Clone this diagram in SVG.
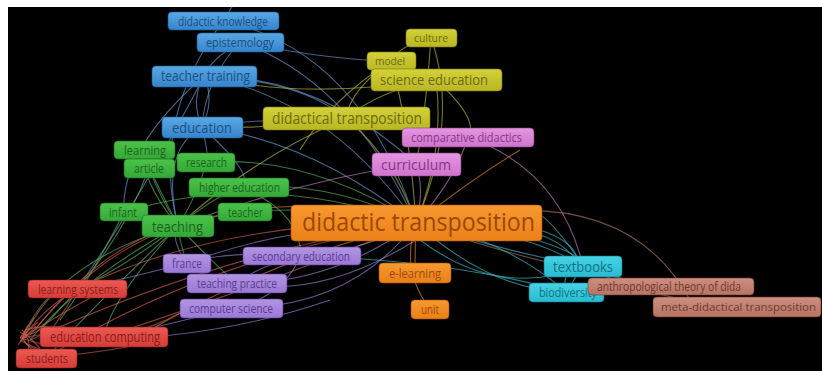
<svg xmlns="http://www.w3.org/2000/svg" width="822" height="374" viewBox="0 0 822 374">
<style>
.n rect{rx:4;ry:4;stroke-width:1;stroke-opacity:0.6}
.n text{font-family:"Open Sans","Noto Sans","Liberation Sans",sans-serif;text-anchor:start}
#links path{fill:none;stroke-width:1.1;stroke-opacity:0.65}
.lo{stroke:#e08a30}.lb{stroke:#6a9ad0}.ly{stroke:#b8b840}.lp{stroke:#c080c0}.lg{stroke:#60b060}.lv{stroke:#9a80d0}.lr{stroke:#d06050}.lc{stroke:#40b8c8}.ln{stroke:#b07860}
.blue rect{fill:url(#gBlue);stroke:#1f5d94}.blue text{fill:#1b4f80}
.yel rect{fill:url(#gYel);stroke:#7a7a10}.yel text{fill:#6b6a0d}
.pink rect{fill:url(#gPink);stroke:#8a3c8a}.pink text{fill:#84378a}
.ora rect{fill:url(#gOra);stroke:#a05010}.ora text{fill:#9c4808}
.grn rect{fill:url(#gGrn);stroke:#1b6a1f}.grn text{fill:#17661c}
.pur rect{fill:url(#gPur);stroke:#5b3b94}.pur text{fill:#5b3b94}
.red rect{fill:url(#gRed);stroke:#8c1c1a}.red text{fill:#8c1c1a}
.cyn rect{fill:url(#gCyn);stroke:#12717f}.cyn text{fill:#12717f}
.brn rect{fill:url(#gBrn);stroke:#6e3a30}.brn text{fill:#6e3a30}
</style>
<defs>
<linearGradient id="gBlue" x1="0" y1="0" x2="0" y2="1"><stop offset="0" stop-color="#5aa8e4"/><stop offset="1" stop-color="#3584cc"/></linearGradient>
<linearGradient id="gYel" x1="0" y1="0" x2="0" y2="1"><stop offset="0" stop-color="#d4d23a"/><stop offset="1" stop-color="#b8b622"/></linearGradient>
<linearGradient id="gPink" x1="0" y1="0" x2="0" y2="1"><stop offset="0" stop-color="#e496e0"/><stop offset="1" stop-color="#cf74cc"/></linearGradient>
<linearGradient id="gOra" x1="0" y1="0" x2="0" y2="1"><stop offset="0" stop-color="#f7992e"/><stop offset="1" stop-color="#ea7f18"/></linearGradient>
<linearGradient id="gGrn" x1="0" y1="0" x2="0" y2="1"><stop offset="0" stop-color="#4cc24a"/><stop offset="1" stop-color="#35a837"/></linearGradient>
<linearGradient id="gPur" x1="0" y1="0" x2="0" y2="1"><stop offset="0" stop-color="#b295e2"/><stop offset="1" stop-color="#9a78d4"/></linearGradient>
<linearGradient id="gRed" x1="0" y1="0" x2="0" y2="1"><stop offset="0" stop-color="#ea5a52"/><stop offset="1" stop-color="#d63c38"/></linearGradient>
<linearGradient id="gCyn" x1="0" y1="0" x2="0" y2="1"><stop offset="0" stop-color="#48d2e4"/><stop offset="1" stop-color="#26bcd2"/></linearGradient>
<linearGradient id="gBrn" x1="0" y1="0" x2="0" y2="1"><stop offset="0" stop-color="#cc8e80"/><stop offset="1" stop-color="#b87464"/></linearGradient>
</defs>
<rect x="0" y="0" width="822" height="374" fill="#ffffff"/>
<rect x="8" y="7" width="814" height="364" fill="#000000"/>
<g id="links">
<path class="lo" d="M416,223 Q297,188 178,226"/>
<path class="lb" d="M416,223 Q310,140 202,127"/>
<path class="lr" d="M416,223 Q220,220 77,289"/>
<path class="lr" d="M416,223 Q250,290 104,337"/>
<path class="lr" d="M416,223 Q200,260 46,358"/>
<path class="lr" d="M416,223 Q230,250 30,340"/>
<path class="lv" d="M416,223 Q350,255 301,256"/>
<path class="lv" d="M416,223 Q330,285 237,283"/>
<path class="lv" d="M416,223 Q350,310 231,308"/>
<path class="lo" d="M416,223 Q415,250 415,273"/>
<path class="lo" d="M416,223 Q400,270 430,309"/>
<path class="lc" d="M416,223 Q500,250 583,266"/>
<path class="lc" d="M416,223 Q490,290 566,292"/>
<path class="ln" d="M470,215 Q630,190 690,300"/>
<path class="ln" d="M416,223 Q550,270 671,286"/>
<path class="lp" d="M416,223 Q425,190 416,164"/>
<path class="lp" d="M416,223 Q455,180 468,137"/>
<path class="ly" d="M416,223 Q395,160 346,118"/>
<path class="ly" d="M416,223 Q445,150 436,80"/>
<path class="ly" d="M416,223 Q460,120 431,38"/>
<path class="ly" d="M416,223 Q410,130 391,61"/>
<path class="lb" d="M416,223 Q350,80 240,42"/>
<path class="lb" d="M416,223 Q330,100 204,76"/>
<path class="lb" d="M416,223 Q360,50 223,21"/>
<path class="lg" d="M416,223 Q330,180 239,187"/>
<path class="lg" d="M416,223 Q330,205 245,212"/>
<path class="lv" d="M416,223 Q290,225 187,263"/>
<path class="lg" d="M416,223 Q310,155 206,162"/>
<path class="lg" d="M416,223 Q260,170 124,212"/>
<path class="lo" d="M416,223 Q270,260 150,330"/>
<path class="lc" d="M416,223 Q560,230 600,275"/>
<path class="lo" d="M416,223 Q380,200 300,230"/>
<path class="lo" d="M416,223 Q470,180 520,150"/>
<path class="lb" d="M204,76 Q215,100 202,127"/>
<path class="lb" d="M204,76 Q190,100 202,127"/>
<path class="lb" d="M240,42 Q205,80 202,127"/>
<path class="lb" d="M240,42 Q210,60 204,76"/>
<path class="lb" d="M223,21 Q150,120 178,226"/>
<path class="lb" d="M204,76 Q120,150 124,212"/>
<path class="lb" d="M204,76 Q300,80 346,118"/>
<path class="lb" d="M204,76 Q320,75 416,164"/>
<path class="lb" d="M240,42 Q330,60 391,61"/>
<path class="lb" d="M202,127 Q300,110 468,137"/>
<path class="lb" d="M202,127 Q210,160 206,162"/>
<path class="lb" d="M202,127 Q160,150 178,226"/>
<path class="lb" d="M204,76 Q140,200 77,289"/>
<path class="lb" d="M202,127 Q260,180 239,187"/>
<path class="lb" d="M223,21 Q230,10 232,7"/>
<path class="ly" d="M431,38 Q400,45 391,61"/>
<path class="ly" d="M431,38 Q425,120 416,164"/>
<path class="ly" d="M391,61 Q350,90 346,118"/>
<path class="ly" d="M436,80 Q380,90 346,118"/>
<path class="ly" d="M436,80 Q480,120 468,137"/>
<path class="ly" d="M391,61 Q330,100 300,150"/>
<path class="ly" d="M346,118 Q260,130 202,127"/>
<path class="ly" d="M346,118 Q250,160 178,226"/>
<path class="ly" d="M436,80 Q300,100 204,76"/>
<path class="lp" d="M416,164 Q300,180 178,226"/>
<path class="lp" d="M468,137 Q560,170 583,266"/>
<path class="lg" d="M178,226 Q150,180 144,150"/>
<path class="lg" d="M178,226 Q160,190 149,168"/>
<path class="lg" d="M178,226 Q200,190 206,162"/>
<path class="lg" d="M178,226 Q210,200 239,187"/>
<path class="lg" d="M178,226 Q215,215 245,212"/>
<path class="lg" d="M178,226 Q140,215 124,212"/>
<path class="lg" d="M178,226 Q120,270 77,289"/>
<path class="lg" d="M178,226 Q110,300 104,337"/>
<path class="lg" d="M178,226 Q80,280 30,340"/>
<path class="lg" d="M178,226 Q100,300 46,358"/>
<path class="lg" d="M178,226 Q60,260 25,335"/>
<path class="lg" d="M149,168 Q120,250 40,330"/>
<path class="lg" d="M144,150 Q140,180 178,226"/>
<path class="lg" d="M178,226 Q180,245 187,263"/>
<path class="lg" d="M178,226 Q220,270 237,283"/>
<path class="lg" d="M239,187 Q300,210 301,256"/>
<path class="lg" d="M124,212 Q90,280 60,320"/>
<path class="lv" d="M187,263 Q170,240 178,226"/>
<path class="lv" d="M187,263 Q120,280 77,289"/>
<path class="lv" d="M231,308 Q150,330 104,337"/>
<path class="lv" d="M237,283 Q260,265 301,256"/>
<path class="lv" d="M301,256 Q280,300 231,308"/>
<path class="lv" d="M187,263 Q230,250 301,256"/>
<path class="lv" d="M237,283 Q320,300 416,240"/>
<path class="lv" d="M40,340 Q200,345 330,300"/>
<path class="lr" d="M22,338 L40,330"/>
<path class="lr" d="M22,338 Q40,300 60,289"/>
<path class="lr" d="M22,338 Q50,320 90,298"/>
<path class="lr" d="M22,338 Q30,350 40,355"/>
<path class="lr" d="M22,338 Q60,330 100,330"/>
<path class="lr" d="M18,345 Q40,310 77,289"/>
<path class="lr" d="M25,330 Q60,320 104,337"/>
<path class="lr" d="M20,340 Q45,355 77,355"/>
<path class="lr" d="M20,332 Q35,340 25,355"/>
<path class="lr" d="M28,325 Q15,345 40,350"/>
<path class="lr" d="M20,338 L38,322"/>
<path class="lr" d="M20,338 L42,344"/>
<path class="lr" d="M20,338 L34,318"/>
<path class="lr" d="M22,330 L40,348"/>
<path class="lr" d="M20,342 L36,326"/>
<path class="lr" d="M30,335 Q100,250 178,226"/>
<path class="lr" d="M35,330 Q90,260 150,235"/>
<path class="lr" d="M77,289 Q60,320 40,345"/>
<path class="lr" d="M104,337 Q160,330 200,300"/>
<path class="lr" d="M46,358 Q120,350 160,340"/>
<path class="lc" d="M583,266 Q520,230 470,235"/>
<path class="lc" d="M583,266 Q560,240 540,235"/>
<path class="lc" d="M566,292 Q530,260 480,240"/>
<path class="lc" d="M566,292 Q560,270 583,266"/>
<path class="lc" d="M583,266 Q500,300 420,240"/>
<path class="lc" d="M566,292 Q450,260 301,256"/>
<path class="lc" d="M583,266 Q540,200 520,210"/>
<path class="lc" d="M566,292 Q600,250 540,230"/>
<path class="ln" d="M671,286 Q600,300 566,292"/>
<path class="ln" d="M740,307 Q650,300 583,266"/>
</g>
<g id="n-didactic-knowledge" class="n blue"><rect x="168" y="12" width="111" height="18"/><text x="178" y="25.5" font-size="12" textLength="90" lengthAdjust="spacingAndGlyphs">didactic knowledge</text></g>
<g id="n-epistemology" class="n blue"><rect x="197" y="33" width="87" height="19"/><text x="206" y="47" font-size="13" textLength="68" lengthAdjust="spacingAndGlyphs">epistemology</text></g>
<g id="n-teacher-training" class="n blue"><rect x="152" y="66" width="105" height="21"/><text x="161" y="81" font-size="14" textLength="89" lengthAdjust="spacingAndGlyphs">teacher training</text></g>
<g id="n-education" class="n blue"><rect x="162" y="117" width="81" height="21"/><text x="172" y="132.5" font-size="15" textLength="60" lengthAdjust="spacingAndGlyphs">education</text></g>
<g id="n-culture" class="n yel"><rect x="406" y="29" width="51" height="18"/><text x="414" y="42" font-size="11" textLength="34" lengthAdjust="spacingAndGlyphs">culture</text></g>
<g id="n-model" class="n yel"><rect x="367" y="52" width="49" height="18"/><text x="375" y="65" font-size="11" textLength="30" lengthAdjust="spacingAndGlyphs">model</text></g>
<g id="n-science-education" class="n yel"><rect x="371" y="69" width="131" height="22"/><text x="380" y="85" font-size="15" textLength="108" lengthAdjust="spacingAndGlyphs">science education</text></g>
<g id="n-didactical-transposition" class="n yel"><rect x="263" y="107" width="167" height="23"/><text x="272" y="124" font-size="16" textLength="150" lengthAdjust="spacingAndGlyphs">didactical transposition</text></g>
<g id="n-comparative-didactics" class="n pink"><rect x="402" y="128" width="132" height="19"/><text x="411" y="142" font-size="12" textLength="111" lengthAdjust="spacingAndGlyphs">comparative didactics</text></g>
<g id="n-curriculum" class="n pink"><rect x="372" y="153" width="89" height="23"/><text x="381" y="170" font-size="15" textLength="70" lengthAdjust="spacingAndGlyphs">curriculum</text></g>
<g id="n-learning" class="n grn"><rect x="114" y="141" width="61" height="18"/><text x="124" y="154.5" font-size="12" textLength="42" lengthAdjust="spacingAndGlyphs">learning</text></g>
<g id="n-article" class="n grn"><rect x="124" y="159" width="51" height="19"/><text x="134" y="172.5" font-size="12" textLength="30" lengthAdjust="spacingAndGlyphs">article</text></g>
<g id="n-research" class="n grn"><rect x="177" y="153" width="58" height="19"/><text x="186" y="166.5" font-size="12" textLength="41" lengthAdjust="spacingAndGlyphs">research</text></g>
<g id="n-higher-education" class="n grn"><rect x="189" y="178" width="100" height="19"/><text x="199" y="191.5" font-size="12" textLength="81" lengthAdjust="spacingAndGlyphs">higher education</text></g>
<g id="n-infant" class="n grn"><rect x="100" y="203" width="48" height="18"/><text x="109" y="216.5" font-size="12" textLength="28" lengthAdjust="spacingAndGlyphs">infant</text></g>
<g id="n-teacher" class="n grn"><rect x="218" y="203" width="54" height="18"/><text x="228" y="216.5" font-size="12" textLength="35" lengthAdjust="spacingAndGlyphs">teacher</text></g>
<g id="n-teaching" class="n grn"><rect x="142" y="215" width="72" height="22"/><text x="152" y="231.5" font-size="15" textLength="51" lengthAdjust="spacingAndGlyphs">teaching</text></g>
<g id="n-didactic-transposition" class="n ora"><rect x="291" y="205" width="251" height="36"/><text x="302" y="231" font-size="26" textLength="233" lengthAdjust="spacingAndGlyphs">didactic transposition</text></g>
<g id="n-secondary-education" class="n pur"><rect x="243" y="247" width="118" height="18"/><text x="252" y="260.5" font-size="12" textLength="98" lengthAdjust="spacingAndGlyphs">secondary education</text></g>
<g id="n-france" class="n pur"><rect x="163" y="254" width="48" height="19"/><text x="172" y="267.5" font-size="12" textLength="30" lengthAdjust="spacingAndGlyphs">france</text></g>
<g id="n-teaching-practice" class="n pur"><rect x="187" y="274" width="100" height="19"/><text x="197" y="287.5" font-size="12" textLength="80" lengthAdjust="spacingAndGlyphs">teaching practice</text></g>
<g id="n-computer-science" class="n pur"><rect x="180" y="299" width="103" height="19"/><text x="189" y="312.5" font-size="12" textLength="84" lengthAdjust="spacingAndGlyphs">computer science</text></g>
<g id="n-e-learning" class="n ora"><rect x="379" y="263" width="72" height="20"/><text x="389" y="277.5" font-size="13" textLength="52" lengthAdjust="spacingAndGlyphs">e-learning</text></g>
<g id="n-unit" class="n ora"><rect x="411" y="300" width="38" height="19"/><text x="421" y="314" font-size="13" textLength="18" lengthAdjust="spacingAndGlyphs">unit</text></g>
<g id="n-learning-systems" class="n red"><rect x="28" y="280" width="99" height="18"/><text x="38" y="293.5" font-size="12" textLength="80" lengthAdjust="spacingAndGlyphs">learning systems</text></g>
<g id="n-education-computing" class="n red"><rect x="40" y="327" width="128" height="20"/><text x="50" y="341.5" font-size="14" textLength="110" lengthAdjust="spacingAndGlyphs">education computing</text></g>
<g id="n-students" class="n red"><rect x="16" y="349" width="61" height="19"/><text x="26" y="362.5" font-size="12" textLength="42" lengthAdjust="spacingAndGlyphs">students</text></g>
<g id="n-textbooks" class="n cyn"><rect x="544" y="256" width="78" height="21"/><text x="553" y="271.5" font-size="15" textLength="60" lengthAdjust="spacingAndGlyphs">textbooks</text></g>
<g id="n-biodiversity" class="n cyn"><rect x="529" y="283" width="75" height="19"/><text x="539" y="296.5" font-size="12" textLength="58" lengthAdjust="spacingAndGlyphs">biodiversity</text></g>
<g id="n-anthropological" class="n brn"><rect x="588" y="278" width="166" height="17"/><text x="597" y="291" font-size="12" textLength="144" lengthAdjust="spacingAndGlyphs">anthropological theory of dida</text></g>
<g id="n-meta-didactical" class="n brn"><rect x="653" y="297" width="168" height="20"/><text x="661" y="311" font-size="11" textLength="155" lengthAdjust="spacingAndGlyphs">meta-didactical transposition</text></g>
</svg>
